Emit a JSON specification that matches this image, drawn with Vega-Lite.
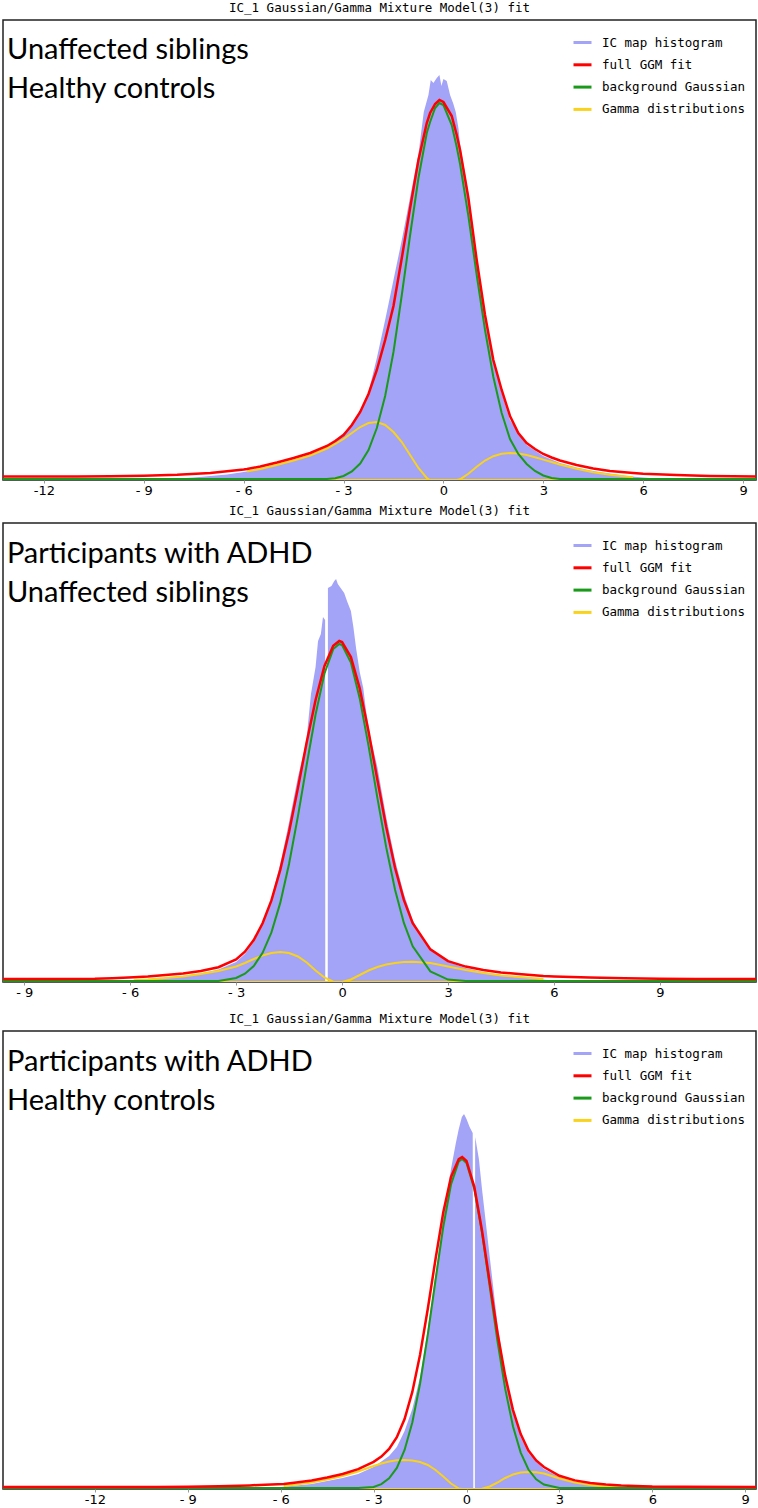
{
"$schema": "https://vega.github.io/schema/vega-lite/v6.json",
"padding": {"left": 2, "right": 3, "top": 0, "bottom": 0},
"background": "white",
"spacing": 5,
"resolve": {"scale": {"x": "independent", "y": "independent", "color": "independent"}, "legend": {"color": "independent"}},
"datasets": {
"leg": [{"k": "IC map histogram"}, {"k": "full GGM fit"}, {"k": "background Gaussian"}, {"k": "Gamma distributions"}],
"a1": [{"t": "Unaffected siblings\nHealthy controls"}],
"a2": [{"t": "Participants with ADHD\nUnaffected siblings"}],
"a3": [{"t": "Participants with ADHD\nHealthy controls"}],
"h1": [{"x":-10,"h":0},{"x":-9,"h":0.8},{"x":-8.5,"h":0.6},{"x":-8,"h":1.5},{"x":-7.5,"h":2.5},{"x":-7,"h":4},{"x":-6.5,"h":5.5},{"x":-6,"h":8},{"x":-5.5,"h":11},{"x":-5,"h":15},{"x":-4.5,"h":20},{"x":-4,"h":25},{"x":-3.5,"h":33},{"x":-3,"h":47},{"x":-2.75,"h":55},{"x":-2.5,"h":68},{"x":-2.25,"h":88},{"x":-2,"h":122},{"x":-1.75,"h":160},{"x":-1.5,"h":200},{"x":-1.25,"h":240},{"x":-1,"h":283},{"x":-0.75,"h":326},{"x":-0.59,"h":368},{"x":-0.45,"h":385},{"x":-0.38,"h":400},{"x":-0.3,"h":397},{"x":-0.2,"h":402},{"x":-0.12,"h":405},{"x":-0.06,"h":394},{"x":0,"h":401},{"x":0.1,"h":399},{"x":0.2,"h":385},{"x":0.3,"h":376},{"x":0.37,"h":368},{"x":0.45,"h":352},{"x":0.5,"h":336},{"x":0.75,"h":287},{"x":1,"h":224},{"x":1.25,"h":166},{"x":1.5,"h":120},{"x":1.75,"h":87},{"x":2,"h":60},{"x":2.5,"h":35},{"x":3,"h":24},{"x":3.5,"h":17},{"x":4,"h":12.5},{"x":4.5,"h":9},{"x":5,"h":6.5},{"x":5.5,"h":4},{"x":6,"h":2.5},{"x":6.5,"h":1.2},{"x":7,"h":0.5},{"x":7.5,"h":0}],
"c1": [{"x":-13.23,"f":3.5,"b":1},{"x":-12,"f":3.5,"b":1},{"x":-11,"f":3.6,"b":1},{"x":-10,"f":3.8,"b":1},{"x":-9,"f":4.3,"b":1},{"x":-8,"f":5.2,"b":1},{"x":-7,"f":7,"b":1},{"x":-6,"f":10.5,"b":1},
{"x":-5.9,"f":11,"b":1,"gl":8.5,"gr":0},{"x":-5.5,"f":13.5,"b":1,"gl":11,"gr":0},{"x":-5,"f":17.5,"b":1,"gl":15,"gr":0},{"x":-4.5,"f":22,"b":1,"gl":19.5,"gr":0},{"x":-4,"f":27,"b":1,"gl":24.5,"gr":0},{"x":-3.5,"f":34,"b":1,"gl":31.5,"gr":0},{"x":-3.25,"f":39,"b":1.8,"gl":36,"gr":0},{"x":-3,"f":45,"b":4,"gl":41,"gr":0},{"x":-2.75,"f":55,"b":8.5,"gl":47,"gr":0},{"x":-2.5,"f":68,"b":16.5,"gl":53,"gr":0},{"x":-2.25,"f":86,"b":30,"gl":57,"gr":0},{"x":-2,"f":110,"b":52,"gl":58,"gr":0},{"x":-1.75,"f":140,"b":84,"gl":55,"gr":0},{"x":-1.5,"f":174,"b":128,"gl":48,"gr":0},{"x":-1.25,"f":222,"b":185,"gl":38,"gr":0},{"x":-1,"f":272,"b":245,"gl":25,"gr":0},{"x":-0.75,"f":320,"b":302,"gl":12,"gr":0},{"x":-0.5,"f":357,"b":347,"gl":2,"gr":0},{"x":-0.4,"f":367,"b":358,"gl":0,"gr":0},{"x":-0.25,"f":376,"b":372,"gl":0,"gr":0},{"x":-0.12,"f":380,"b":377,"gl":0,"gr":0},{"x":0,"f":378,"b":375,"gl":0,"gr":0},{"x":0.25,"f":364,"b":355,"gl":0,"gr":0},{"x":0.4,"f":345,"b":333,"gl":0,"gr":0},{"x":0.5,"f":330,"b":316,"gl":0,"gr":0.7},{"x":0.75,"f":282,"b":264,"gl":0,"gr":6.2},{"x":1,"f":220,"b":205,"gl":0,"gr":13.3},{"x":1.25,"f":165,"b":150,"gl":0,"gr":19.5},{"x":1.5,"f":120,"b":103,"gl":0,"gr":23.8},{"x":1.75,"f":90,"b":67,"gl":0,"gr":26.3},{"x":2,"f":64,"b":41,"gl":0,"gr":27},{"x":2.25,"f":47,"b":26,"gl":0,"gr":26.5},{"x":2.5,"f":37,"b":16,"gl":0,"gr":24.9},{"x":2.75,"f":31,"b":9,"gl":0,"gr":22.8},{"x":3,"f":26,"b":4.5,"gl":0,"gr":20.4},{"x":3.25,"f":22.5,"b":2,"gl":0,"gr":18},{"x":3.5,"f":19.5,"b":1,"gl":0,"gr":15.5},{"x":4,"f":15,"b":1,"gl":0,"gr":11.2},{"x":4.5,"f":11.5,"b":1,"gl":0,"gr":7.8},{"x":5,"f":9,"b":1,"gl":0,"gr":5.2},{"x":5.7,"f":7,"b":1,"gl":0,"gr":2.8},
{"x":6,"f":6.3,"b":1},{"x":7,"f":5,"b":1},{"x":8,"f":4,"b":1},{"x":9.39,"f":3.5,"b":1}],
"h2": [{"x":-8,"h":0},{"x":-7,"h":0.5},{"x":-6,"h":1.5},{"x":-5.5,"h":2.5},{"x":-5,"h":4},{"x":-4.5,"h":6},{"x":-4,"h":8.5},{"x":-3.5,"h":12.5},{"x":-3,"h":20},{"x":-2.75,"h":28},{"x":-2.5,"h":40},{"x":-2.25,"h":58},{"x":-2,"h":84},{"x":-1.75,"h":118},{"x":-1.5,"h":160},{"x":-1.25,"h":205},{"x":-1.08,"h":230},{"x":-1,"h":245},{"x":-0.88,"h":288},{"x":-0.75,"h":315},{"x":-0.68,"h":341},{"x":-0.6,"h":348},{"x":-0.54,"h":365},{"x":-0.48,"h":362},{"x":-0.475,"h":0},{"x":-0.405,"h":0},{"x":-0.4,"h":394},{"x":-0.3,"h":396},{"x":-0.22,"h":401},{"x":-0.17,"h":403},{"x":-0.12,"h":398},{"x":-0.06,"h":395},{"x":0.06,"h":389},{"x":0.15,"h":380},{"x":0.25,"h":371},{"x":0.32,"h":355},{"x":0.4,"h":333},{"x":0.5,"h":310},{"x":0.6,"h":294},{"x":0.68,"h":271},{"x":0.8,"h":245},{"x":1,"h":215},{"x":1.25,"h":165},{"x":1.5,"h":122},{"x":1.75,"h":88},{"x":2,"h":62},{"x":2.25,"h":45},{"x":2.5,"h":34},{"x":3,"h":20},{"x":3.5,"h":14},{"x":4,"h":10},{"x":4.5,"h":7},{"x":5,"h":5},{"x":5.5,"h":3},{"x":6,"h":1.5},{"x":6.5,"h":1},{"x":7,"h":1.5},{"x":7.5,"h":1.5},{"x":8,"h":1.2},{"x":8.5,"h":0.3},{"x":9,"h":0}],
"c2": [{"x":-9.6,"f":3,"b":1},{"x":-9,"f":3,"b":1},{"x":-8,"f":3.1,"b":1},{"x":-7,"f":3.3,"b":1},{"x":-6.5,"f":3.8,"b":1},
{"x":-5.9,"f":4.8,"b":1,"gl":1.8,"gr":0},{"x":-5.5,"f":5.5,"b":1,"gl":2.5,"gr":0},{"x":-5,"f":7,"b":1,"gl":4,"gr":0},{"x":-4.5,"f":8.5,"b":1,"gl":5.5,"gr":0},{"x":-4,"f":11,"b":1,"gl":8,"gr":0},{"x":-3.5,"f":14.8,"b":1,"gl":11,"gr":0},{"x":-3,"f":22.5,"b":4,"gl":15.5,"gr":0},{"x":-2.75,"f":30.3,"b":8.3,"gl":19,"gr":0},{"x":-2.5,"f":42,"b":16,"gl":23,"gr":0},{"x":-2.25,"f":58.7,"b":29.2,"gl":26.5,"gr":0},{"x":-2,"f":81.6,"b":49.6,"gl":29,"gr":0},{"x":-1.75,"f":112.1,"b":79.1,"gl":30,"gr":0},{"x":-1.5,"f":150.2,"b":118.2,"gl":29,"gr":0},{"x":-1.25,"f":194.1,"b":165.6,"gl":25.5,"gr":0},{"x":-1,"f":240,"b":217.5,"gl":19.5,"gr":0},{"x":-0.75,"f":282,"b":267.5,"gl":11.5,"gr":0},{"x":-0.5,"f":315.8,"b":308.3,"gl":4.5,"gr":0},{"x":-0.25,"f":336.2,"b":332.9,"gl":0.3,"gr":0},{"x":-0.08,"f":341,"b":338,"gl":0,"gr":0},{"x":0,"f":339.9,"b":336.9,"gl":0,"gr":0},{"x":0.25,"f":324.9,"b":319.4,"gl":0,"gr":2.5},{"x":0.5,"f":293.6,"b":283.6,"gl":0,"gr":7},{"x":0.75,"f":250.6,"b":236.1,"gl":0,"gr":11.5},{"x":1,"f":202.2,"b":184.2,"gl":0,"gr":15},{"x":1.25,"f":155.1,"b":134.6,"gl":0,"gr":17.5},{"x":1.5,"f":114.2,"b":92.2,"gl":0,"gr":19},{"x":1.75,"f":82.1,"b":59.1,"gl":0,"gr":20},{"x":2,"f":58.9,"b":35.6,"gl":0,"gr":20.3},{"x":2.5,"f":32.6,"b":10.6,"gl":0,"gr":19},{"x":3,"f":20.9,"b":2.4,"gl":0,"gr":15.5},{"x":3.5,"f":15.4,"b":1,"gl":0,"gr":12},{"x":4,"f":12,"b":1,"gl":0,"gr":9},{"x":4.5,"f":9.5,"b":1,"gl":0,"gr":6.5},{"x":5,"f":8,"b":1,"gl":0,"gr":5},{"x":5.7,"f":6,"b":1,"gl":0,"gr":3},
{"x":6,"f":5.5,"b":1},{"x":7,"f":4.5,"b":1},{"x":8,"f":3.8,"b":1},{"x":9,"f":3.3,"b":1},{"x":10,"f":3.1,"b":1},{"x":11.72,"f":3,"b":1}],
"h3": [{"x":-8,"h":0},{"x":-7,"h":0.5},{"x":-6,"h":2},{"x":-5,"h":5},{"x":-4,"h":11},{"x":-3.5,"h":15},{"x":-3,"h":22},{"x":-2.5,"h":33},{"x":-2.25,"h":42},{"x":-2,"h":58},{"x":-1.75,"h":80},{"x":-1.5,"h":112},{"x":-1.25,"h":160},{"x":-1,"h":215},{"x":-0.75,"h":272},{"x":-0.5,"h":320},{"x":-0.35,"h":345},{"x":-0.25,"h":360},{"x":-0.15,"h":372},{"x":-0.08,"h":375},{"x":0,"h":370},{"x":0.1,"h":362},{"x":0.2,"h":356},{"x":0.22,"h":0},{"x":0.27,"h":0},{"x":0.28,"h":352},{"x":0.4,"h":330},{"x":0.5,"h":300},{"x":0.75,"h":232},{"x":1,"h":165},{"x":1.25,"h":115},{"x":1.5,"h":78},{"x":1.75,"h":52},{"x":2,"h":36},{"x":2.5,"h":20},{"x":3,"h":12},{"x":3.5,"h":7},{"x":4,"h":4.5},{"x":4.5,"h":3},{"x":5,"h":2},{"x":6,"h":1},{"x":7,"h":0}],
"c3": [{"x":-14.97,"f":2,"b":1},{"x":-12,"f":2,"b":1},{"x":-10,"f":2.1,"b":1},{"x":-9,"f":2.3,"b":1},{"x":-8,"f":2.8,"b":1},{"x":-7,"f":3.6,"b":1},{"x":-6.5,"f":4.3,"b":1},
{"x":-5.9,"f":5,"b":1,"gl":3,"gr":0},{"x":-5.5,"f":6.5,"b":1,"gl":4.5,"gr":0},{"x":-5,"f":8.5,"b":1,"gl":6.5,"gr":0},{"x":-4.5,"f":11.5,"b":1,"gl":9.5,"gr":0},{"x":-4,"f":15,"b":1,"gl":13,"gr":0},{"x":-3.5,"f":19.8,"b":1,"gl":17.5,"gr":0},{"x":-3,"f":27.1,"b":2.1,"gl":23,"gr":0},{"x":-2.75,"f":32.4,"b":4.9,"gl":25.5,"gr":0},{"x":-2.5,"f":40.1,"b":10.6,"gl":27.5,"gr":0},{"x":-2.25,"f":51.8,"b":21.1,"gl":28.7,"gr":0},{"x":-2,"f":70,"b":39,"gl":29,"gr":0},{"x":-1.75,"f":97.1,"b":66.6,"gl":28.5,"gr":0},{"x":-1.5,"f":134.3,"b":105.3,"gl":27,"gr":0},{"x":-1.25,"f":180.3,"b":154.3,"gl":24,"gr":0},{"x":-1,"f":230,"b":209,"gl":19,"gr":0},{"x":-0.75,"f":276.8,"b":262.3,"gl":12.5,"gr":0},{"x":-0.5,"f":312.1,"b":304.6,"gl":5.5,"gr":0},{"x":-0.25,"f":330,"b":327.5,"gl":0.5,"gr":0},{"x":-0.14,"f":332,"b":330,"gl":0,"gr":0},{"x":0,"f":328,"b":326,"gl":0,"gr":0},{"x":0.25,"f":302.4,"b":300.4,"gl":0,"gr":0},{"x":0.5,"f":258.6,"b":256.3,"gl":0,"gr":0.3},{"x":0.75,"f":206.9,"b":202.4,"gl":0,"gr":2.5},{"x":1,"f":156.4,"b":147.9,"gl":0,"gr":6.5},{"x":1.25,"f":113.1,"b":100.1,"gl":0,"gr":11},{"x":1.5,"f":79.2,"b":62.7,"gl":0,"gr":14.5},{"x":1.75,"f":54.9,"b":36.4,"gl":0,"gr":16.5},{"x":2,"f":38.5,"b":19.5,"gl":0,"gr":17},{"x":2.25,"f":28.5,"b":9.7,"gl":0,"gr":16.8},{"x":2.5,"f":22,"b":4.5,"gl":0,"gr":15.5},{"x":3,"f":13.2,"b":1,"gl":0,"gr":10.5},{"x":3.5,"f":8.6,"b":1,"gl":0,"gr":6.5},{"x":4,"f":6,"b":1,"gl":0,"gr":4},{"x":4.5,"f":4.5,"b":1,"gl":0,"gr":2.5},{"x":5,"f":3.5,"b":1,"gl":0,"gr":1.5},{"x":5.7,"f":2.8,"b":1,"gl":0,"gr":0.8},
{"x":6,"f":2.5,"b":1},{"x":7,"f":2.2,"b":1},{"x":9.35,"f":2,"b":1}]
},
"vconcat": [
{"width": 753, "height": 460, "title": "IC_1 Gaussian/Gamma Mixture Model(3) fit",
"layer": [
{"data": {"name": "h1"}, "mark": {"type": "area", "color": "#a3a3f7", "clip": true}, "encoding": {"x": {"field": "x", "type": "quantitative", "scale": {"domain": [-13.23, 9.39], "nice": false, "zero": false}, "axis": {"values": [-12,-9,-6,-3,0,3,6,9]}}, "y": {"field": "h", "type": "quantitative", "scale": {"domain": [0, 460], "nice": false}, "axis": null}}},
{"data": {"name": "c1"}, "mark": {"type": "line", "color": "#f8d21c", "strokeWidth": 2, "clip": true}, "encoding": {"x": {"field": "x", "type": "quantitative"}, "y": {"field": "gl", "type": "quantitative"}}},
{"data": {"name": "c1"}, "mark": {"type": "line", "color": "#f8d21c", "strokeWidth": 2, "clip": true}, "encoding": {"x": {"field": "x", "type": "quantitative"}, "y": {"field": "gr", "type": "quantitative"}}},
{"data": {"name": "c1"}, "mark": {"type": "line", "color": "#1a9a1a", "strokeWidth": 2, "clip": true}, "encoding": {"x": {"field": "x", "type": "quantitative"}, "y": {"field": "b", "type": "quantitative"}}},
{"data": {"name": "c1"}, "mark": {"type": "line", "color": "#ff0000", "strokeWidth": 2.5, "clip": true}, "encoding": {"x": {"field": "x", "type": "quantitative"}, "y": {"field": "f", "type": "quantitative"}}},
{"data": {"name": "leg"}, "mark": {"type": "line", "clip": true}, "encoding": {"x": {"datum": 0}, "y": {"datum": 0}, "color": {"field": "k", "type": "nominal", "scale": {"domain": ["IC map histogram", "full GGM fit", "background Gaussian", "Gamma distributions"], "range": ["#a3a3f7", "#ff0000", "#1a9a1a", "#f8d21c"]}}}},
{"data": {"name": "a1"}, "mark": {"type": "text", "align": "left", "baseline": "alphabetic", "font": "Lato", "fontSize": 29, "lineBreak": "\n", "lineHeight": 39, "color": "#000"}, "encoding": {"x": {"datum": -13.11}, "y": {"datum": 421}, "text": {"field": "t"}}}
]},
{"spacing": 11,
"resolve": {"scale": {"x": "independent", "y": "independent", "color": "independent"}, "legend": {"color": "independent"}},
"vconcat": [
{"width": 753, "height": 459, "title": "IC_1 Gaussian/Gamma Mixture Model(3) fit",
"layer": [
{"data": {"name": "h2"}, "mark": {"type": "area", "color": "#a3a3f7", "clip": true}, "encoding": {"x": {"field": "x", "type": "quantitative", "scale": {"domain": [-9.6, 11.72], "nice": false, "zero": false}, "axis": {"values": [-9,-6,-3,0,3,6,9]}}, "y": {"field": "h", "type": "quantitative", "scale": {"domain": [0, 459], "nice": false}, "axis": null}}},
{"data": {"name": "c2"}, "mark": {"type": "line", "color": "#f8d21c", "strokeWidth": 2, "clip": true}, "encoding": {"x": {"field": "x", "type": "quantitative"}, "y": {"field": "gl", "type": "quantitative"}}},
{"data": {"name": "c2"}, "mark": {"type": "line", "color": "#f8d21c", "strokeWidth": 2, "clip": true}, "encoding": {"x": {"field": "x", "type": "quantitative"}, "y": {"field": "gr", "type": "quantitative"}}},
{"data": {"name": "c2"}, "mark": {"type": "line", "color": "#1a9a1a", "strokeWidth": 2, "clip": true}, "encoding": {"x": {"field": "x", "type": "quantitative"}, "y": {"field": "b", "type": "quantitative"}}},
{"data": {"name": "c2"}, "mark": {"type": "line", "color": "#ff0000", "strokeWidth": 2.5, "clip": true}, "encoding": {"x": {"field": "x", "type": "quantitative"}, "y": {"field": "f", "type": "quantitative"}}},
{"data": {"name": "leg"}, "mark": {"type": "line", "clip": true}, "encoding": {"x": {"datum": 0}, "y": {"datum": 0}, "color": {"field": "k", "type": "nominal", "scale": {"domain": ["IC map histogram", "full GGM fit", "background Gaussian", "Gamma distributions"], "range": ["#a3a3f7", "#ff0000", "#1a9a1a", "#f8d21c"]}}}},
{"data": {"name": "a2"}, "mark": {"type": "text", "align": "left", "baseline": "alphabetic", "font": "Lato", "fontSize": 29, "lineBreak": "\n", "lineHeight": 39, "color": "#000"}, "encoding": {"x": {"datum": -9.49}, "y": {"datum": 419}, "text": {"field": "t"}}}
]},
{"width": 753, "height": 458, "title": "IC_1 Gaussian/Gamma Mixture Model(3) fit",
"layer": [
{"data": {"name": "h3"}, "mark": {"type": "area", "color": "#a3a3f7", "clip": true}, "encoding": {"x": {"field": "x", "type": "quantitative", "scale": {"domain": [-14.97, 9.35], "nice": false, "zero": false}, "axis": {"values": [-12,-9,-6,-3,0,3,6,9]}}, "y": {"field": "h", "type": "quantitative", "scale": {"domain": [0, 458], "nice": false}, "axis": null}}},
{"data": {"name": "c3"}, "mark": {"type": "line", "color": "#f8d21c", "strokeWidth": 2, "clip": true}, "encoding": {"x": {"field": "x", "type": "quantitative"}, "y": {"field": "gl", "type": "quantitative"}}},
{"data": {"name": "c3"}, "mark": {"type": "line", "color": "#f8d21c", "strokeWidth": 2, "clip": true}, "encoding": {"x": {"field": "x", "type": "quantitative"}, "y": {"field": "gr", "type": "quantitative"}}},
{"data": {"name": "c3"}, "mark": {"type": "line", "color": "#1a9a1a", "strokeWidth": 2, "clip": true}, "encoding": {"x": {"field": "x", "type": "quantitative"}, "y": {"field": "b", "type": "quantitative"}}},
{"data": {"name": "c3"}, "mark": {"type": "line", "color": "#ff0000", "strokeWidth": 2.5, "clip": true}, "encoding": {"x": {"field": "x", "type": "quantitative"}, "y": {"field": "f", "type": "quantitative"}}},
{"data": {"name": "leg"}, "mark": {"type": "line", "clip": true}, "encoding": {"x": {"datum": 0}, "y": {"datum": 0}, "color": {"field": "k", "type": "nominal", "scale": {"domain": ["IC map histogram", "full GGM fit", "background Gaussian", "Gamma distributions"], "range": ["#a3a3f7", "#ff0000", "#1a9a1a", "#f8d21c"]}}}},
{"data": {"name": "a3"}, "mark": {"type": "text", "align": "left", "baseline": "alphabetic", "font": "Lato", "fontSize": 29, "lineBreak": "\n", "lineHeight": 39, "color": "#000"}, "encoding": {"x": {"datum": -14.84}, "y": {"datum": 418}, "text": {"field": "t"}}}
]}
]}
],
"config": {
"view": {"stroke": "#222", "strokeWidth": 1.5},
"title": {"font": "DejaVu Sans Mono", "fontSize": 12.5, "fontWeight": "normal", "color": "#000", "offset": 6},
"axis": {"labelFont": "DejaVu Sans", "labelFontSize": 13, "labelColor": "#000", "tickSize": 3, "tickColor": "#999", "labelPadding": 1, "domain": false, "grid": false, "title": null,
"labelExpr": "datum.value < 0 && datum.value > -10 ? '- ' + abs(datum.value) : (datum.value < 0 ? '-' + abs(datum.value) : '' + datum.value)"},
"legend": {"orient": "none", "legendX": 569, "legendY": 12, "title": null, "symbolType": "stroke", "symbolSize": 324, "symbolStrokeWidth": 3, "labelFont": "DejaVu Sans Mono", "labelFontSize": 12.5, "labelColor": "#000", "labelOffset": 9, "rowPadding": 5.3}
}
}
